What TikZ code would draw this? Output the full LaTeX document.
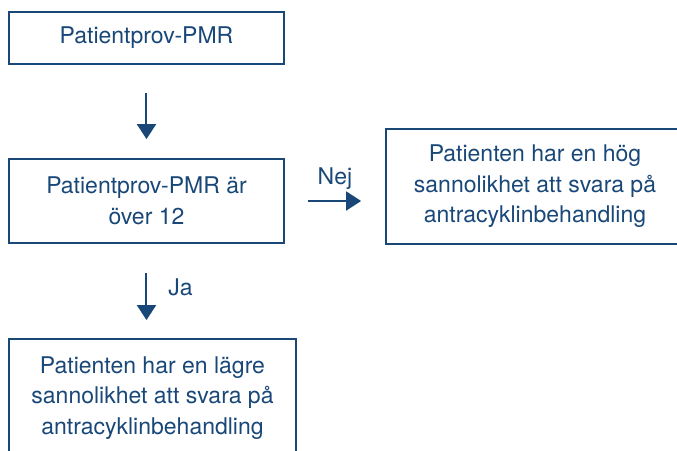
\documentclass[tikz,border=0pt]{standalone}
\usepackage{fontspec}
\setmainfont{TeX Gyre Heros}
\usetikzlibrary{positioning, arrows.meta}
\definecolor{flowblue}{RGB}{25,72,120}

\begin{document}
\begin{tikzpicture}[x=0.5pt, y=-0.5pt,
    box/.style={draw=flowblue, line width=0.9pt, text=flowblue, align=center, inner sep=0pt, font=\fontsize{11.5}{15.25}\selectfont},
    flow/.style={draw=flowblue, line width=1pt, -{Triangle[length=7.5pt,width=9.5pt]}},
    lbl/.style={text=flowblue, inner sep=0pt, font=\fontsize{11.5}{13}\selectfont}]
    \clip (0,0) rectangle (677,451);
    \useasboundingbox (0,0) rectangle (677,451);

    \node[box, minimum width=137.5pt, minimum height=26pt] (prov) at (146.5,38) {Patientprov-PMR};
    \node[box, minimum width=137.5pt, minimum height=42pt] (over) at (146.5,201) {Patientprov-PMR är\\över 12};
    \node[box, minimum width=149pt, minimum height=57.5pt] (hog) at (535,186.5) {Patienten har en hög\\sannolikhet att svara på\\antracyklinbehandling};
    \node[box, minimum width=143.5pt, minimum height=59pt] (lag) at (152.5,398) {Patienten har en lägre\\sannolikhet att svara på\\antracyklinbehandling};

    \draw[flow, shorten <=14pt, shorten >=9.5pt] (prov) -- (over);
    \draw[flow, shorten <=11.5pt, shorten >=12pt] (over.east) -- (over.east -| hog.west) node[lbl, midway, above=5pt] {Nej};
    \draw[flow, shorten <=14.5pt, shorten >=9pt] (over.south) -- (over.south |- lag.north) node[lbl, midway, right=10.5pt, yshift=2pt] {Ja};
\end{tikzpicture}
\end{document}
